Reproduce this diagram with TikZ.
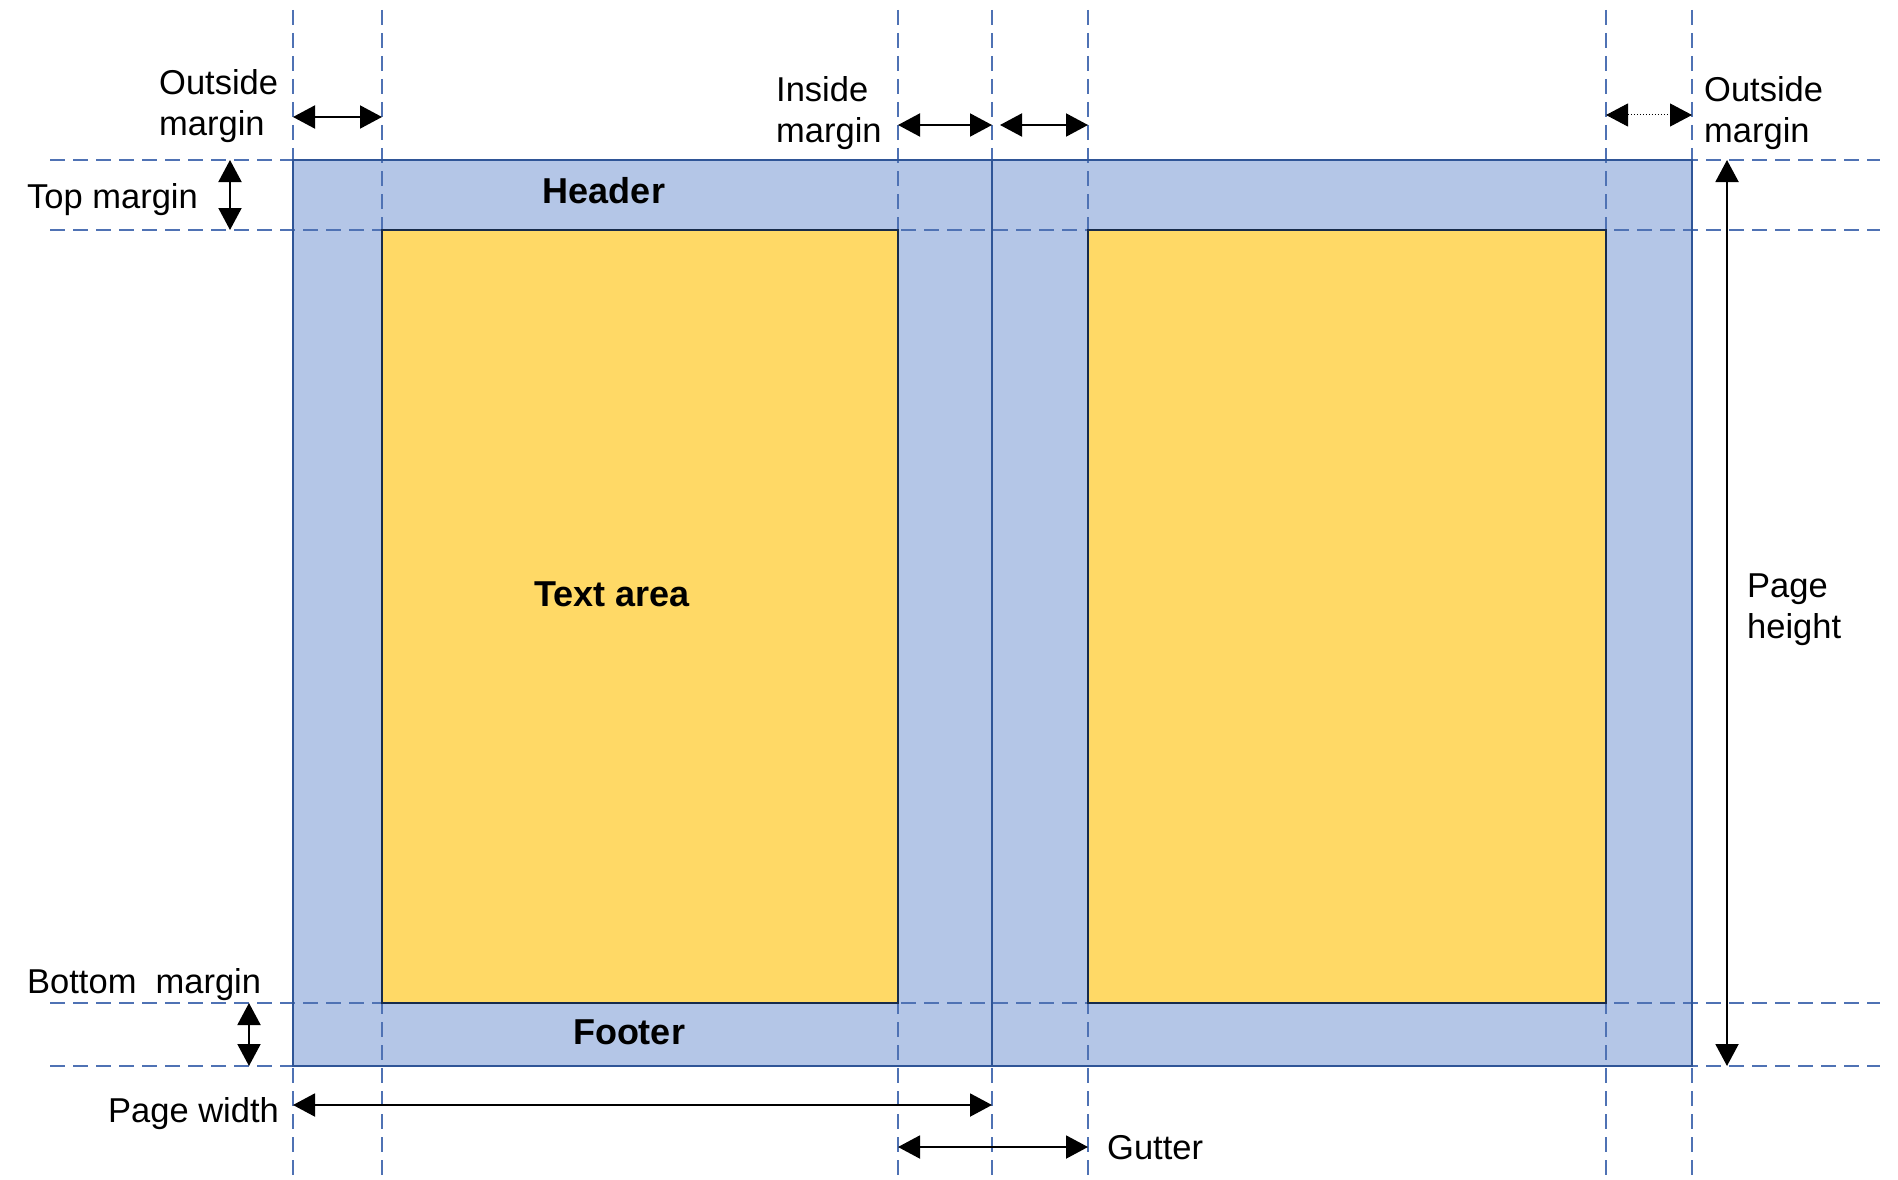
\documentclass[tikz,border=0pt]{standalone}
\usepackage{fontspec}
\setmainfont{Liberation Sans}
\usetikzlibrary{arrows.meta}

\definecolor{marginblue}{RGB}{180,198,231}
\definecolor{textyellow}{RGB}{255,217,102}
\definecolor{edgeblue}{RGB}{47,85,151}
\definecolor{guideblue}{RGB}{79,114,180}

\tikzset{
  guide/.style={guideblue, line width=1.3pt, dash pattern=on 15pt off 8pt},
  dimarrow/.style={line width=2pt,
    {Triangle[length=22pt,width=23pt]}-{Triangle[length=22pt,width=23pt]}},
  dimtext/.style={inner sep=0pt, font=\fontsize{34.5}{41}\selectfont, align=left},
  areatext/.style={inner sep=0pt, font=\fontsize{36}{40}\selectfont\bfseries}
}

\begin{document}
\begin{tikzpicture}[x=1pt,y=-1pt]
\useasboundingbox (0,0) rectangle (1898,1180);

% the two pages
\fill[marginblue] (293,160) rectangle (1692,1066);

% guide lines
\foreach \gx in {293,382,898,992,1088,1606,1692}
  \draw[guide] (\gx,10) -- (\gx,1180);
\foreach \gy in {160,230,1003,1066}
  \draw[guide] (50,\gy) -- (1880,\gy);

% text areas
\draw[edgeblue!50!black, line width=1.3pt, fill=textyellow] (382,230) rectangle (898,1003);
\draw[edgeblue!50!black, line width=1.3pt, fill=textyellow] (1088,230) rectangle (1606,1003);

% page edges and spine
\draw[edgeblue, line width=2.2pt] (293,160) rectangle (1692,1066);
\draw[edgeblue, line width=2.2pt] (992,160) -- (992,1066);

% arrow ends
\coordinate (oml) at (293,117);  \coordinate (omr) at (382,117);
\coordinate (iml) at (898,125);  \coordinate (imr) at (992,125);
\coordinate (gml) at (1000,125); \coordinate (gmr) at (1088,125);
\coordinate (rol) at (1606,115); \coordinate (ror) at (1692,115);
\coordinate (tmt) at (230,160);  \coordinate (tmb) at (230,230);
\coordinate (bmt) at (249,1003); \coordinate (bmb) at (249,1066);
\coordinate (pwl) at (293,1105); \coordinate (pwr) at (992,1105);
\coordinate (gul) at (898,1147); \coordinate (gur) at (1088,1147);
\coordinate (pht) at (1727,160); \coordinate (phb) at (1727,1066);

\draw[dimarrow] (oml) -- (omr);
\draw[dimarrow] (iml) -- (imr);
\draw[dimarrow] (gml) -- (gmr);
\draw[dimarrow, line width=1pt, dotted] (rol) -- (ror);
\draw[dimarrow] (tmt) -- (tmb);
\draw[dimarrow] (bmt) -- (bmb);
\draw[dimarrow] (pwl) -- (pwr);
\draw[dimarrow] (gul) -- (gur);
\draw[dimarrow] (pht) -- (phb);

% labels
\node[dimtext, anchor=north west] (outl) at (159,69) {Outside\\margin};
\node[dimtext, anchor=north west] (insm) at (776,76) {Inside\\margin};
\node[dimtext, anchor=north west] (outr) at (1704,76) {Outside\\margin};
\node[dimtext, anchor=base west] (topm) at (27,208) {Top margin};
\node[dimtext, anchor=base west] (botm) at (27,993) {Bottom~ margin};
\node[dimtext, anchor=base west] (pgw) at (108,1122) {Page width};
\node[dimtext, anchor=base west] (gut) at (1107,1159) {Gutter};
\node[dimtext, anchor=north west] (pgh) at (1747,574) {Page\\height};

\node[areatext, anchor=base] (head) at (604,203) {Header};
\node[areatext, anchor=base] (body) at (612,606) {Text area};
\node[areatext, anchor=base] (foot) at (629,1044) {Footer};
\end{tikzpicture}
\end{document}
